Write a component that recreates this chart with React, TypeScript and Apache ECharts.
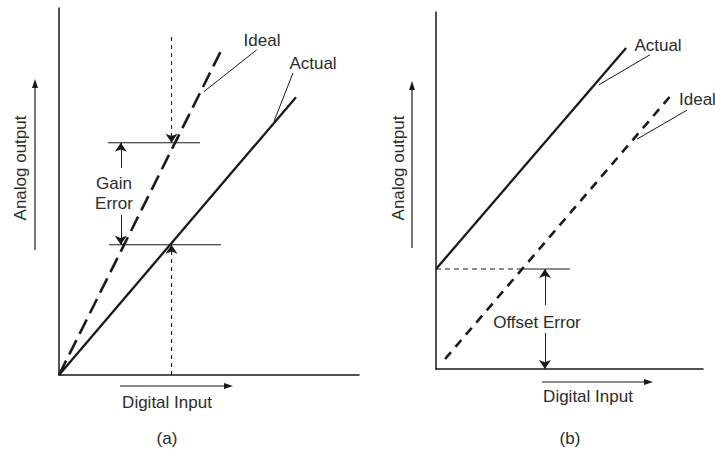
import React, { useEffect, useRef } from "react";
import * as echarts from "echarts";

// ---- Panel (a): gain error (units: 0..100 on both axes) ----
const A_IDEAL = [[0, 0], [54.6, 89.3]];
const A_ACTUAL = [[0, 0], [79, 75.7]];
const A_SAMPLE_X = 37.5;
const A_IDEAL_LEVEL = 63.3;
const A_ACTUAL_LEVEL = 35.5;
const A_SAMPLE_TOP = 92.1;
const A_UPPER_REF_X = [16.3, 47];
const A_LOWER_REF_X = [16.7, 54];
const A_GAIN_X = 20.6;
const A_GAIN_GAP = [43.6, 56.4];
const A_IDEAL_LEADER = [[65.9, 88.6], [48.3, 77.2]];
const A_ACTUAL_LEADER = [[78, 82.3], [71.7, 69.2]];

// ---- Panel (b): offset error ----
const B_ACTUAL = [[0, 28], [71.2, 89.9]];
const B_IDEAL = [[3.4, 2.8], [87.6, 76.3]];
const B_OFFSET = 28;
const B_CROSS_X = 32.2;
const B_REF_END_X = 50.2;
const B_ARROW_X = 40.8;
const B_GAP = [10.1, 17.9];
const B_ACTUAL_LEADER = [[80.1, 88], [61, 79.6]];
const B_IDEAL_LEADER = [[94, 72.5], [75.3, 64.4]];

// ---- Texts ----
const LABEL_IDEAL = "Ideal";
const LABEL_ACTUAL = "Actual";
const LABEL_GAIN = "Gain\nError";
const LABEL_OFFSET = "Offset Error";
const LABEL_X = "Digital Input";
const LABEL_Y = "Analog output";
const PANEL_A = "(a)";
const PANEL_B = "(b)";

const INK = "#1a1a1a";
const TEXT = "#2b2b2b";
const FONT = "'Liberation Sans', Arial, sans-serif";

function axis(gridIndex: number) {
  return {
    type: "value",
    gridIndex,
    min: 0,
    max: 100,
    axisLine: { show: true, onZero: false, lineStyle: { color: INK, width: 1.5 } },
    axisTick: { show: false },
    axisLabel: { show: false },
    splitLine: { show: false },
  };
}

function seg(p1: number[], p2: number[], style: any, arrow: boolean) {
  return [
    { coord: p1, symbol: "none", lineStyle: style },
    { coord: p2, symbol: arrow ? "arrow" : "none", symbolSize: 9, lineStyle: style },
  ];
}

const thin = { color: INK, width: 1, type: "solid" };
const fineDash = { color: INK, width: 1.1, type: [4, 4] };

function lineSeries(idx: number, data: number[][], width: number, type: any, extra: any = {}) {
  return {
    type: "line",
    xAxisIndex: idx,
    yAxisIndex: idx,
    data,
    symbol: "none",
    silent: true,
    lineStyle: { color: INK, width, type },
    ...extra,
  };
}

function markLines(items: any[]) {
  return {
    markLine: {
      silent: true,
      animation: false,
      label: { show: false },
      symbol: ["none", "none"],
      data: items,
    },
  };
}

function text(x: number, y: number, t: string, extra: any = {}) {
  return {
    type: "text",
    x,
    y,
    silent: true,
    ...extra,
    style: {
      text: t,
      font: `17px ${FONT}`,
      fill: TEXT,
      align: "center",
      verticalAlign: "middle",
      lineHeight: 20,
      ...(extra.style || {}),
    },
  };
}

function arrowGraphic(x1: number, y1: number, x2: number, y2: number) {
  const dx = x2 - x1;
  const dy = y2 - y1;
  const len = Math.sqrt(dx * dx + dy * dy);
  const ux = dx / len;
  const uy = dy / len;
  const hl = 9;
  const hw = 3;
  const bx = x2 - ux * hl;
  const by = y2 - uy * hl;
  return [
    { type: "line", silent: true, shape: { x1, y1, x2: bx, y2: by }, style: { stroke: INK, lineWidth: 1.2 } },
    {
      type: "polygon",
      silent: true,
      shape: { points: [[x2, y2], [bx - uy * hw, by + ux * hw], [bx + uy * hw, by - ux * hw]] },
      style: { fill: INK },
    },
  ];
}

export default function App() {
  const ref = useRef<HTMLDivElement>(null);
  useEffect(() => {
    if (!ref.current) return;
    const chart = echarts.init(ref.current, null, { renderer: "svg" });
    const option: any = {
      animation: false,
      backgroundColor: "#ffffff",
      grid: [
        { left: 59, top: 8, width: 300, height: 367 },
        { left: 436, top: 12, width: 267, height: 357 },
      ],
      xAxis: [axis(0), axis(1)],
      yAxis: [axis(0), axis(1)],
      series: [
        // Panel (a)
        lineSeries(0, A_IDEAL, 2.6, [16, 7]),
        lineSeries(0, A_ACTUAL, 2.3, "solid", markLines([
          seg([A_SAMPLE_X, A_SAMPLE_TOP], [A_SAMPLE_X, A_IDEAL_LEVEL], fineDash, true),
          seg([A_SAMPLE_X, 0], [A_SAMPLE_X, A_ACTUAL_LEVEL], fineDash, true),
          seg([A_GAIN_X, A_GAIN_GAP[1]], [A_GAIN_X, A_IDEAL_LEVEL], thin, true),
          seg([A_GAIN_X, A_GAIN_GAP[0]], [A_GAIN_X, A_ACTUAL_LEVEL], thin, true),
          seg(A_IDEAL_LEADER[0], A_IDEAL_LEADER[1], thin, false),
          seg(A_ACTUAL_LEADER[0], A_ACTUAL_LEADER[1], thin, false),
        ])),
        lineSeries(0, [[A_UPPER_REF_X[0], A_IDEAL_LEVEL], [A_UPPER_REF_X[1], A_IDEAL_LEVEL]], 1.1, "solid"),
        lineSeries(0, [[A_LOWER_REF_X[0], A_ACTUAL_LEVEL], [A_LOWER_REF_X[1], A_ACTUAL_LEVEL]], 1.1, "solid"),
        // Panel (b)
        lineSeries(1, B_IDEAL, 2.6, [9, 7]),
        lineSeries(1, B_ACTUAL, 2.3, "solid", markLines([
          seg([B_ARROW_X, B_GAP[1]], [B_ARROW_X, B_OFFSET], thin, true),
          seg([B_ARROW_X, B_GAP[0]], [B_ARROW_X, 0], thin, true),
          seg(B_ACTUAL_LEADER[0], B_ACTUAL_LEADER[1], thin, false),
          seg(B_IDEAL_LEADER[0], B_IDEAL_LEADER[1], thin, false),
        ])),
        lineSeries(1, [[0, B_OFFSET], [B_CROSS_X, B_OFFSET]], 1.1, [5, 4]),
        lineSeries(1, [[B_CROSS_X, B_OFFSET], [B_REF_END_X, B_OFFSET]], 1.1, "solid"),
      ],
      graphic: [
        // panel (a) texts
        text(262, 40, LABEL_IDEAL),
        text(313, 63, LABEL_ACTUAL),
        text(114, 193, LABEL_GAIN),
        text(20, 168, LABEL_Y, { rotation: Math.PI / 2 }),
        text(167, 402, LABEL_X),
        text(167, 438, PANEL_A),
        ...arrowGraphic(35, 250, 35, 79),
        ...arrowGraphic(120, 386, 233, 386),
        // panel (b) texts
        text(658, 45, LABEL_ACTUAL),
        text(679, 99, LABEL_IDEAL, { style: { align: "left" } }),
        text(537, 322, LABEL_OFFSET),
        text(398, 168, LABEL_Y, { rotation: Math.PI / 2 }),
        text(588, 396, LABEL_X),
        text(570, 438, PANEL_B),
        ...arrowGraphic(412, 248, 412, 81),
        ...arrowGraphic(542, 382, 653, 382),
      ],
    };
    chart.setOption(option);
    return () => chart.dispose();
  }, []);
  return (
    <div
      ref={ref}
      style={{ position: "fixed", left: 0, top: 0, width: 715, height: 452 }}
    />
  );
}
